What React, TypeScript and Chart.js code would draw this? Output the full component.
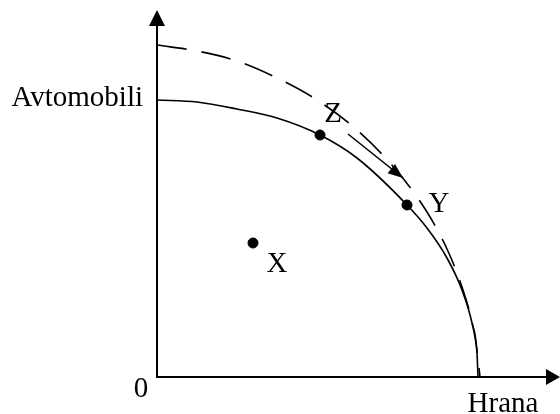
import React, { useEffect, useRef } from "react";
import { Chart, registerables } from "chart.js";

Chart.register(...registerables);

// Production possibilities frontier (units = good quantities)
const frontierX = [0, 40, 80, 120, 163, 200, 250, 270, 290, 305, 315, 320, 321];
const frontierY = [277, 275, 268, 259, 242, 219, 172, 149, 119, 87, 54, 24, 0];

const shiftedX = [0, 40, 80, 120, 160, 200, 240, 270, 290, 305, 315, 320, 323];
const shiftedY = [332, 326, 316, 299, 277, 247, 206, 165, 128, 90, 55, 27, 0];

const arrowX = [191, 246];
const arrowY = [243, 199];

const pointNames = ["Z", "Y", "X"];
const pointX = [163, 250, 96];
const pointY = [242, 172, 134];

const yAxisTitle = "Avtomobili";
const xAxisTitle = "Hrana";
const originLabel = "0";

const xMax = 403;
const yMax = 367;

const FONT = "29px 'Liberation Serif', 'Times New Roman', serif";

const zip = (xs: number[], ys: number[]) => xs.map((x, i) => ({ x, y: ys[i] }));

export default function App() {
  const ref = useRef<HTMLCanvasElement | null>(null);

  useEffect(() => {
    document.body.style.margin = "0";
    const canvas = ref.current;
    if (!canvas) return;

    const decor = {
      id: "decor",
      beforeDatasetsDraw(chart: any) {
        const { ctx, chartArea } = chart;
        const { left, right, top, bottom } = chartArea;
        ctx.save();
        ctx.strokeStyle = "#000";
        ctx.fillStyle = "#000";
        ctx.lineWidth = 2;
        ctx.beginPath();
        ctx.moveTo(left, top + 8);
        ctx.lineTo(left, bottom);
        ctx.lineTo(right - 8, bottom);
        ctx.stroke();
        ctx.beginPath();
        ctx.moveTo(left, top);
        ctx.lineTo(left - 8, top + 16);
        ctx.lineTo(left + 8, top + 16);
        ctx.closePath();
        ctx.fill();
        ctx.beginPath();
        ctx.moveTo(right, bottom);
        ctx.lineTo(right - 14, bottom - 8);
        ctx.lineTo(right - 14, bottom + 8);
        ctx.closePath();
        ctx.fill();
        ctx.restore();
      },
      afterDatasetsDraw(chart: any) {
        const { ctx, chartArea } = chart;
        const xs = chart.scales.x;
        const ys = chart.scales.y;
        ctx.save();
        ctx.fillStyle = "#000";
        const x0 = xs.getPixelForValue(arrowX[0]);
        const y0 = ys.getPixelForValue(arrowY[0]);
        const x1 = xs.getPixelForValue(arrowX[1]);
        const y1 = ys.getPixelForValue(arrowY[1]);
        const ang = Math.atan2(y1 - y0, x1 - x0);
        const L = 15;
        const W = 6;
        ctx.beginPath();
        ctx.moveTo(x1, y1);
        ctx.lineTo(x1 - L * Math.cos(ang) + W * Math.sin(ang), y1 - L * Math.sin(ang) - W * Math.cos(ang));
        ctx.lineTo(x1 - L * Math.cos(ang) - W * Math.sin(ang), y1 - L * Math.sin(ang) + W * Math.cos(ang));
        ctx.closePath();
        ctx.fill();

        ctx.font = FONT;
        ctx.textBaseline = "alphabetic";
        const offs = [
          [13, -13],
          [32, 7],
          [24, 29],
        ];
        pointNames.forEach((n, i) => {
          const px = xs.getPixelForValue(pointX[i]);
          const py = ys.getPixelForValue(pointY[i]);
          ctx.textAlign = "center";
          ctx.fillText(n, px + offs[i][0], py + offs[i][1]);
        });
        ctx.textAlign = "right";
        ctx.fillText(yAxisTitle, chartArea.left - 14, ys.getPixelForValue(frontierY[0]) + 6);
        ctx.textAlign = "center";
        ctx.fillText(originLabel, chartArea.left - 16, chartArea.bottom + 20);
        ctx.fillText(xAxisTitle, chartArea.right - 57, chartArea.bottom + 35);
        ctx.restore();
      },
    };

    const chart = new Chart(canvas, {
      type: "scatter",
      data: {
        datasets: [
          {
            data: zip(frontierX, frontierY),
            showLine: true,
            borderColor: "#000",
            borderWidth: 1.6,
            pointRadius: 0,
            cubicInterpolationMode: "monotone",
            clip: false,
          },
          {
            data: zip(shiftedX, shiftedY),
            showLine: true,
            borderColor: "#000",
            borderWidth: 1.6,
            borderDash: [30, 15],
            pointRadius: 0,
            cubicInterpolationMode: "monotone",
            clip: false,
          },
          {
            data: zip(arrowX, arrowY),
            showLine: true,
            borderColor: "#000",
            borderWidth: 1.6,
            pointRadius: 0,
            clip: false,
          },
          {
            data: zip(pointX, pointY),
            showLine: false,
            backgroundColor: "#000",
            borderColor: "#000",
            pointRadius: 5,
            clip: false,
          },
        ],
      } as any,
      options: {
        responsive: false,
        animation: false,
        events: [],
        layout: { autoPadding: false, padding: { left: 157, right: 0, top: 10, bottom: 37 } },
        plugins: { legend: { display: false }, tooltip: { enabled: false } },
        scales: {
          x: { type: "linear", min: 0, max: xMax, display: false },
          y: { type: "linear", min: 0, max: yMax, display: false },
        },
      } as any,
      plugins: [decor],
    });
    return () => chart.destroy();
  }, []);

  return <canvas ref={ref} width={560} height={414} style={{ display: "block" }} />;
}
